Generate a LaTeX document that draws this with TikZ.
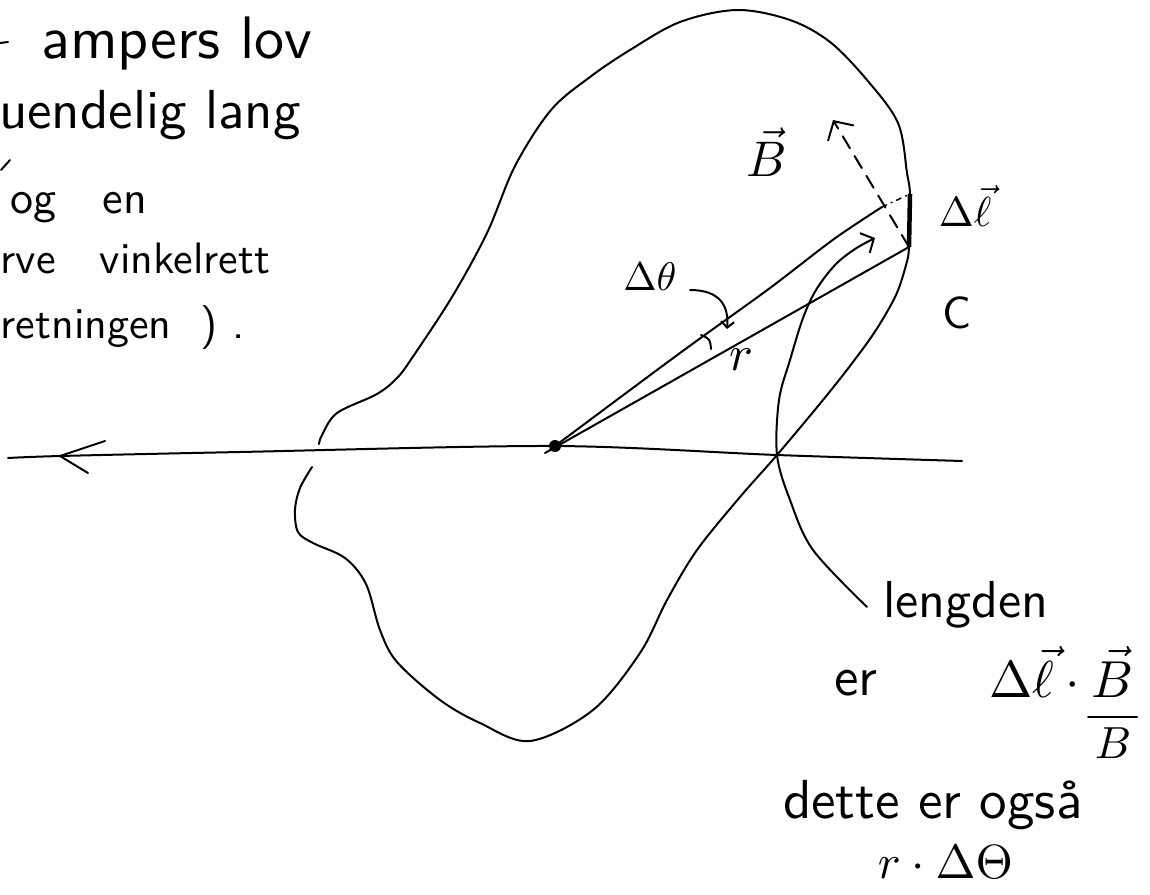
\documentclass[tikz,border=0pt]{standalone}
\usetikzlibrary{arrows.meta}
\begin{document}
\begin{tikzpicture}[x=1pt,y=-1pt,
  pen/.style={line width=2pt, line cap=round, line join=round},
  hand/.style={font=\sffamily, inner sep=0pt, anchor=base west},
  lbl/.style={inner sep=0pt},
  bigbarb/.style={-{Straight Barb[length=10pt,width=22pt,line width=2pt]}},
  smallbarb/.style={-{Straight Barb[length=6pt,width=13pt,line width=2pt]}},
  dashbarb/.style={-{Straight Barb[length=14pt,width=30pt,line width=2pt]}}
]
\useasboundingbox (0,0) rectangle (1150,894);
\clip (0,0) rectangle (1150,894);
\fill[white] (0,0) rectangle (1150,894);

% ---------- text at top left ----------
\coordinate (s1a) at (0,43); \coordinate (s1b) at (8,42);
\draw[pen] (s1a) -- (s1b);
\node[hand, scale=6] (t1) at (40,58) {ampers lov};
\node[hand, scale=5.5] (t2) at (-2,128) {uendelig lang};
\coordinate (s2a) at (1,170); \coordinate (s2b) at (10,160);
\draw[pen] (s2a) -- (s2b);
\node[hand, scale=4.6] (t3) at (10,213) {og\quad en};
\node[hand, scale=4.4] (t4) at (0,273) {rve\quad vinkelrett};
\node[hand, scale=4.4] (t5) at (0,338) {retningen\ \ )\ .};

% ---------- horizontal wire ----------
\coordinate (wL) at (8,458);
\coordinate (wR) at (962,461);
\draw[pen] plot[smooth, tension=0.5] coordinates {(8,458) (60,456) (240,452) (555,446) (777,455) (962,461)};
\coordinate (ah1) at (105,441); \coordinate (ah0) at (60,456); \coordinate (ah2) at (88,473);
\draw[pen] (ah1) -- (ah0) -- (ah2);

% ---------- closed curve C ----------
\draw[pen] plot[smooth, tension=0.55] coordinates {
 (312,467) (300,488) (295,510) (298,532) (313,543) (345,558) (366,584)
 (380,630) (397,662) (440,700) (480,723) (530,741) (593,710) (640,653)
 (667,600) (697,550) (740,497) (777,455) (823,400) (853,362) (876,330)
 (896,295) (906,265) (909,247) (910,195) (907,173) (898,123) (867,80)
 (830,42) (790,20) (737,10) (680,22) (630,50) (590,77) (551,110)
 (515,166) (487,233) (452,297) (412,358) (397,378) (377,394) (337,413)
 (322,435) (319,444)};

% ---------- origin point and rays ----------
\node[circle, fill=black, inner sep=0pt, minimum size=12pt] (O) at (555,446) {};
\coordinate (tail) at (545,453);
\coordinate (dlb) at (909,247);
\coordinate (dlt) at (910,194);
\coordinate (ue) at (882,207);
\draw[pen] (tail) -- (dlb);
\draw[pen] plot[smooth, tension=0.5] coordinates {(555,446) (657,370) (702,337) (770,288) (834,239) (882,207)};

% angle arc
\coordinate (arcA) at (701,335); \coordinate (arcB) at (711,349);
\draw[pen] (arcA) .. controls (710,339) .. (arcB);

% delta l element
\draw[line width=4.5pt] (dlt) -- (dlb);

% dotted from upper ray end to top of delta l
\draw[line width=1.5pt, line cap=round, dash pattern=on 5pt off 5pt on 1pt off 5pt] (ue) -- (dlt);

% dashed B direction
\coordinate (Btip) at (833,120);
\draw[pen, dash pattern=on 14pt off 9pt, dashbarb] (dlb) -- (Btip);

% ---------- labels ----------
\node[lbl, scale=5] (Blbl) at (767,152) {$\vec{B}$};
\node[lbl, scale=4.2] (dlLbl) at (965,206) {$\Delta\vec{\ell}$};
\node[lbl, scale=4.5, font=\sffamily] (Clbl) at (957,313) {C};
\node[lbl, scale=4] (dth) at (650,277) {$\Delta\theta$};
\node[lbl, scale=5] (rlbl) at (741,360) {$r$};

% arrow from delta theta label to the angle
\coordinate (thS) at (690,290); \coordinate (thE) at (727,329);
\draw[pen, smallbarb] (thS) .. controls (720,290) and (729,306) .. (thE);

% ---------- arc-length pointer ----------
\coordinate (lenS) at (867,607);
\coordinate (lenE) at (875,238);
\draw[pen, bigbarb] plot[smooth, tension=0.55] coordinates {(867,607) (813,550) (790,500) (777,455) (779,400) (790,360) (803,318) (816,290) (835,265) (855,249) (875,238)};

% ---------- text at bottom right ----------
\node[hand, scale=5.2] (len) at (882,617) {lengden};
\node[hand, scale=5.5] (er) at (833,695) {er};
\node[lbl, anchor=base west, scale=5.2] (num) at (988,697) {$\Delta\vec{\ell}\cdot\vec{B}$};
\coordinate (barL) at (1088,717); \coordinate (barR) at (1137,717);
\draw[pen] (barL) -- (barR);
\node[lbl, scale=4.5] (den) at (1113,743) {$B$};
\node[hand, scale=5.5] (dette) at (782,818) {dette er også};
\node[lbl, anchor=base west, scale=4.8] (rdt) at (877,878) {$r\cdot\Delta\Theta$};
\end{tikzpicture}
\end{document}
